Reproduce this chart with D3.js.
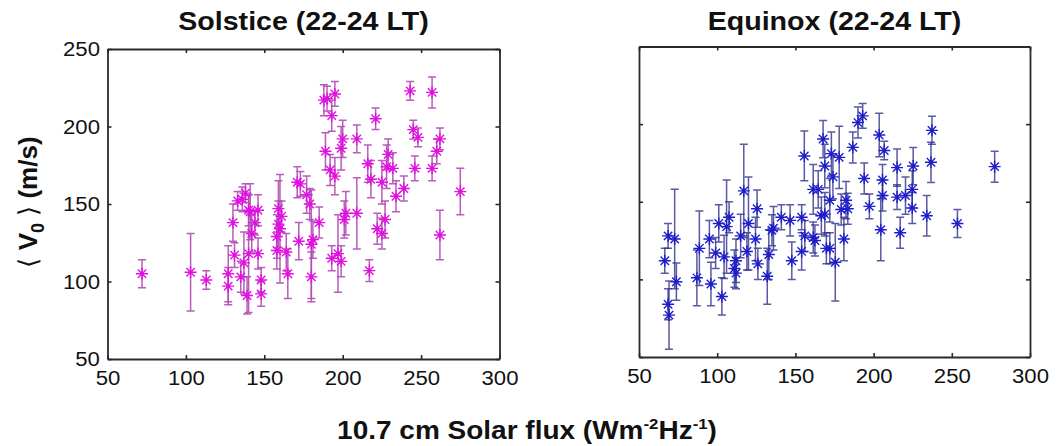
<!DOCTYPE html>
<html>
<head>
<meta charset="utf-8">
<script src="https://cdn.jsdelivr.net/npm/d3@7"></script>
<style>
  html, body { margin: 0; padding: 0; background: #fff; }
  svg { display: block; font-family: "Liberation Sans", Arial, Helvetica, sans-serif; }
</style>
</head>
<body>
<svg id="chart" width="1064" height="446"></svg>
<script>
// Solstice, 22-24 LT: solar flux, mean drift <V0> and its spread
const solsticeFlux = [72,103,113,127,127,130,131,133,135,136,
  138,139,140,141,142,144,146,146,148,148,
  137,140,159,159,158,158,160,161,164,165,
  171,172,173,177,179,180,180,181,185,189,
  190,195,193,195,192,200,199,209,202,209,
  201,197,193,199,217,221,216,218,225,228,
  232,229,222,225,227,234,239,243,257,245,
  248,262,260,246,257,275,262,188];
const solsticeVel = [105,106,101,105,97,138,117,152,103,153,
  157,91,146,145,131,138,146,118,101,92,
  112,118,147,137,129,120,134,142,119,105,
  164,126,163,156,150,124,103,127,138,184,
  218,221,207,168,172,192,186,192,144,144,
  140,118,115,113,107,205,176,166,164,174,
  173,182,134,131,140,155,160,223,222,198,
  193,192,184,173,173,158,130,217];
const solsticeErr = [9,25,6,18,12,12,8,6,10,8,
  6,12,10,18,12,8,10,10,8,8,
  20,38,18,15,14,12,35,10,12,16,
  10,12,8,12,10,35,16,12,10,12,
  8,8,10,12,10,12,14,9,14,23,
  12,25,8,10,7,7,12,12,14,14,
  10,10,10,10,12,10,8,6,10,6,
  6,7,8,8,8,15,16,10];

// Equinox, 22-24 LT
const equinoxFlux = [66.5,68.6,72.8,73.9,68.6,69.2,87,88.6,95,96,
  103,99,101,106,104.4,107.6,111,112,112,115,
  117,119,120,124.5,125.5,132,133,136,141,146.6,
  147.7,154,155.7,156,154,161.4,161.4,164.6,167.7,168.8,
  168.8,172,173,174,172,175.5,178,181,182.4,183.5,
  179.3,186.7,190,193,194,197.3,203.6,206.8,204.6,205.7,
  205.7,215,215,217,220.4,224.7,225.3,224.7,234,237.3,
  236.7,253.6,277.4,166.6,169.8,162.5,135,126];
const equinoxVel = [112,128,126,98.5,84,77,101,120,126,97,
  89,117,136,134,114.5,140,107,112,104,128,
  157,118,136,126,145.5,102,116,133,140,138,
  112,118,179.5,128,140,127,158,158,190.4,173,
  142,151,181,166,120,111,178.6,126,151,145.5,
  145,185,201,205.3,165,147,193,183,132,164,
  154,172,153,130,154,158,173,146,141,196,
  175.4,136,172.6,141,120,125,131.6,110];
const equinoxErr = [8,8,32,12,10,22,18,24,12,14,
  12,10,12,30,14,10,12,14,10,14,
  30,12,30,14,12,18,16,14,8,10,
  12,12,16,10,8,10,16,12,12,14,
  14,14,14,14,10,25,20,14,12,10,
  10,10,10,8,10,8,14,6,20,10,
  10,12,8,10,12,12,12,10,13,9,
  13,9,10,12,10,10,10,10];

const xTicks = [50,100,150,200,250,300];
const yTicks = [50,100,150,200,250];
const xDomain = [50,300];
const yDomain = [50,250];

const svg = d3.select("#chart");
const STRETCH = "scale(1.08,1)";

const panels = [
  { title: "Solstice (22-24 LT)", flux: solsticeFlux, vel: solsticeVel, err: solsticeErr,
    box: { x0: 107.5, x1: 499.5, y0: 49, y1: 359 }, yLabels: true,
    mark: "#e010e0", bar: "#b24ab4", barOpacity: 0.9 },
  { title: "Equinox (22-24 LT)", flux: equinoxFlux, vel: equinoxVel, err: equinoxErr,
    box: { x0: 639, x1: 1030, y0: 46.5, y1: 357 }, yLabels: false,
    mark: "#1e1ec8", bar: "#30308f", barOpacity: 0.8 }
];

function asterisk(r) {
  const a = r * 0.7;
  return `M${-r},0L${r},0M0,${-r}L0,${r}M${-a},${-a}L${a},${a}M${-a},${a}L${a},${-a}`;
}

panels.forEach(p => {
  const { x0, x1, y0, y1 } = p.box;
  const x = d3.scaleLinear().domain(xDomain).range([x0, x1]);
  const y = d3.scaleLinear().domain(yDomain).range([y1, y0]);
  const g = svg.append("g");

  // data: error bars first, then asterisk markers on top
  const pts = p.flux.map((f, i) => ({ f, v: p.vel[i], e: p.err[i] }));
  const bars = g.append("g")
    .attr("stroke", p.bar).attr("stroke-opacity", p.barOpacity)
    .attr("stroke-width", 1.5).attr("fill", "none");
  pts.forEach(d => {
    const cx = x(d.f), top = y(d.v + d.e), bot = y(d.v - d.e);
    bars.append("path")
      .attr("d", `M${cx},${top}L${cx},${bot}M${cx - 4},${top}L${cx + 4},${top}M${cx - 4},${bot}L${cx + 4},${bot}`);
  });
  g.append("g").selectAll("path").data(pts).join("path")
    .attr("transform", d => `translate(${x(d.f)},${y(d.v)})`)
    .attr("d", asterisk(6))
    .attr("stroke", p.mark).attr("stroke-width", 1.4).attr("fill", "none");

  // axes with inward ticks, boxed
  const axStyle = sel => {
    sel.select(".domain").attr("stroke", "#2a2a2a").attr("stroke-width", 1.8);
    sel.selectAll(".tick line").attr("stroke", "#2a2a2a").attr("stroke-width", 1.6);
    sel.selectAll(".tick text").attr("fill", "#111").attr("font-size", 20.5)
      .attr("transform", STRETCH);
  };
  g.append("g").attr("transform", `translate(0,${y1})`)
    .call(d3.axisBottom(x).tickValues(xTicks).tickSizeInner(-4).tickSizeOuter(0).tickPadding(11))
    .call(axStyle);
  g.append("g").attr("transform", `translate(0,${y0})`)
    .call(d3.axisTop(x).tickValues(xTicks).tickSizeInner(-4).tickSizeOuter(0).tickFormat(""))
    .call(axStyle);
  const yl = d3.axisLeft(y).tickValues(yTicks).tickSizeInner(-4).tickSizeOuter(0).tickPadding(7);
  if (!p.yLabels) yl.tickFormat("");
  g.append("g").attr("transform", `translate(${x0},0)`).call(yl).call(axStyle);
  g.append("g").attr("transform", `translate(${x1},0)`)
    .call(d3.axisRight(y).tickValues(yTicks).tickSizeInner(-4).tickSizeOuter(0).tickFormat(""))
    .call(axStyle);

  // panel title
  g.append("text")
    .attr("transform", `translate(${(x0 + x1) / 2},30) scale(1.1,1)`)
    .attr("text-anchor", "middle").attr("font-weight", "bold").attr("font-size", 26)
    .attr("fill", "#111").text(p.title);
});

// shared y label: <V0> (m/s)
const ylab = svg.append("text")
  .attr("transform", "translate(37,202) rotate(-90)")
  .attr("text-anchor", "middle").attr("font-size", 26).attr("fill", "#111");
ylab.append("tspan").attr("font-weight", "normal").text("\u27E8 ");
ylab.append("tspan").attr("font-weight", "bold").text("V");
ylab.append("tspan").attr("font-weight", "bold").attr("font-size", 18).attr("dy", 7).text("0");
ylab.append("tspan").attr("font-weight", "normal").attr("dy", -7).text(" \u27E9 ");
ylab.append("tspan").attr("font-weight", "bold").text("(m/s)");

// shared x label
const xlab = svg.append("text")
  .attr("transform", `translate(527,439) scale(1.12,1)`)
  .attr("text-anchor", "middle").attr("font-weight", "bold").attr("font-size", 25).attr("fill", "#111");
xlab.append("tspan").text("10.7 cm Solar flux (Wm");
xlab.append("tspan").attr("font-size", 15).attr("dy", -10).text("-2");
xlab.append("tspan").attr("dy", 10).text("Hz");
xlab.append("tspan").attr("font-size", 15).attr("dy", -10).text("-1");
xlab.append("tspan").attr("dy", 10).text(")");
</script>
</body>
</html>
